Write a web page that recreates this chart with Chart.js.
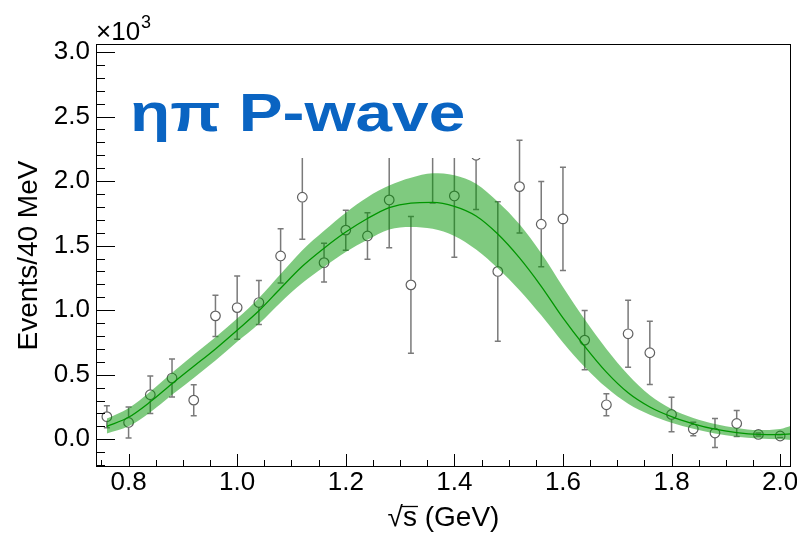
<!DOCTYPE html>
<html><head><meta charset="utf-8">
<script src="https://cdn.jsdelivr.net/npm/chart.js@4"></script>
<style>html,body{margin:0;padding:0;background:#fff}#wrap{width:797px;height:538px}</style>
</head><body><div id="wrap"><canvas id="c" width="797" height="538"></canvas></div>
<script>
// data (events in units of 10^3)
const massBins = [0.76,0.80,0.84,0.88,0.92,0.96,1.00,1.04,1.08,1.12,1.16,1.20,1.24,1.28,1.32,1.36,1.40,1.44,1.48,1.52,1.56,1.60,1.64,1.68,1.72,1.76,1.80,1.84,1.88,1.92,1.96,2.00];
const events   = [0.175,0.13,0.345,0.474,0.303,0.956,1.02,1.059,1.42,1.875,1.368,1.62,1.575,1.854,1.196,2.26,1.885,2.20,1.30,1.957,1.666,1.707,0.768,0.267,0.817,0.67,0.192,0.079,0.048,0.122,0.037,0.025];
const errors   = [0.085,0.12,0.145,0.147,0.12,0.16,0.245,0.17,0.21,0.325,0.15,0.155,0.18,0.37,0.53,0.43,0.475,0.42,0.54,0.36,0.33,0.40,0.23,0.085,0.26,0.245,0.133,0.052,0.112,0.10,0.012,0.012];
const fitMass    = [0.76,0.80,0.84,0.88,0.92,0.96,1.00,1.04,1.08,1.12,1.16,1.20,1.24,1.28,1.32,1.36,1.40,1.44,1.48,1.52,1.56,1.60,1.64,1.68,1.72,1.76,1.80,1.84,1.88,1.92,1.96,2.00,2.02];
const fitCentral = [0.10,0.17,0.29,0.43,0.565,0.70,0.845,0.995,1.17,1.34,1.48,1.605,1.71,1.795,1.83,1.835,1.805,1.73,1.59,1.405,1.185,0.94,0.72,0.52,0.36,0.25,0.175,0.12,0.078,0.052,0.038,0.036,0.042];
const fitUpper   = [0.16,0.24,0.37,0.515,0.655,0.79,0.935,1.095,1.28,1.465,1.615,1.755,1.875,1.965,2.025,2.06,2.045,1.98,1.84,1.665,1.44,1.18,0.93,0.70,0.50,0.34,0.235,0.165,0.118,0.088,0.072,0.08,0.105];
const fitLower   = [0.045,0.10,0.21,0.345,0.475,0.61,0.755,0.895,1.06,1.21,1.335,1.45,1.545,1.625,1.645,1.63,1.575,1.47,1.325,1.155,0.96,0.75,0.56,0.40,0.275,0.19,0.128,0.082,0.045,0.02,0.006,0.0,-0.005];
const xTitle = '√s (GeV)';
const yTitle = 'Events/40 MeV';
const panelLabel = 'ηπ P-wave';
const yExponent = '3';

const FONT = '"Liberation Sans", Arial, Helvetica, sans-serif';
const pts = (xs, ys) => xs.map((v, i) => ({x: v, y: ys[i]}));

const errorBars = {
  id: 'errorBars',
  beforeDatasetsDraw(chart) {
    const {ctx, scales: {x, y}} = chart;
    const r = 5;
    ctx.save();
    ctx.strokeStyle = '#7a7a7a';
    ctx.lineWidth = 1.5;
    massBins.forEach((m, i) => {
      const px = x.getPixelForValue(m);
      const py = y.getPixelForValue(events[i]);
      const top = y.getPixelForValue(events[i] + errors[i]);
      const bot = y.getPixelForValue(events[i] - errors[i]);
      ctx.beginPath();
      if (top < py - r) { ctx.moveTo(px, top); ctx.lineTo(px, py - r); }
      if (bot > py + r) { ctx.moveTo(px, py + r); ctx.lineTo(px, bot); }
      ctx.moveTo(px - 3, top); ctx.lineTo(px + 3, top);
      ctx.moveTo(px - 3, bot); ctx.lineTo(px + 3, bot);
      ctx.stroke();
    });
    ctx.restore();
  }
};

const decorations = {
  id: 'decorations',
  afterDatasetsDraw(chart) {
    const {ctx} = chart;
    ctx.save();
    ctx.fillStyle = '#ffffff';
    ctx.fillRect(118, 70, 372, 88);
    ctx.fillStyle = '#0a64c2';
    ctx.font = 'bold 53px ' + FONT;
    ctx.textBaseline = 'alphabetic';
    ctx.translate(130, 131);
    ctx.scale(1.24, 1);
    ctx.fillText(panelLabel, 0, 0);
    ctx.restore();
  },
  afterDraw(chart) {
    const {ctx, chartArea: a, scales: {x, y}} = chart;
    ctx.save();
    ctx.strokeStyle = '#000';
    ctx.lineWidth = 1;
    ctx.strokeRect(a.left + 0.5, a.top + 0.5, a.right - a.left - 1, a.bottom - a.top - 1);
    ctx.beginPath();
    for (let k = -2; k <= 30; k++) {
      const v = k / 10;
      const py = Math.round(y.getPixelForValue(v)) + 0.5;
      const len = (k % 5 === 0) ? 19 : 9;
      ctx.moveTo(a.left, py); ctx.lineTo(a.left + len, py);
    }
    for (let k = 15; k <= 40; k++) {
      const v = k / 20;
      const px = Math.round(x.getPixelForValue(v)) + 0.5;
      const len = (k % 4 === 0) ? 13 : 7;
      ctx.moveTo(px, a.bottom); ctx.lineTo(px, a.bottom - len);
    }
    ctx.stroke();
    // multiplier
    ctx.fillStyle = '#000';
    ctx.textBaseline = 'alphabetic';
    ctx.font = '26px ' + FONT;
    ctx.fillText('×10', 96, 40);
    const w = ctx.measureText('×10').width;
    ctx.font = '18px ' + FONT;
    ctx.fillText(yExponent, 96 + w + 1, 28);
    // overline of sqrt
    ctx.font = '28px ' + FONT;
    const tw = ctx.measureText(xTitle).width;
    const sx = (a.left + a.right) / 2 - tw / 2 + ctx.measureText('√').width;
    const sw = ctx.measureText('s').width;
    ctx.lineWidth = 1.3;
    ctx.beginPath();
    ctx.moveTo(sx - 1, 506.5); ctx.lineTo(sx + sw + 1, 506.5);
    ctx.stroke();
    ctx.restore();
  }
};

new Chart(document.getElementById('c'), {
  data: {
    datasets: [
      {type: 'scatter', label: 'data', data: pts(massBins, events), order: 3,
       pointStyle: 'circle', pointRadius: 4.8, pointBorderWidth: 1.2,
       pointBorderColor: '#606060', pointBackgroundColor: 'rgba(0,0,0,0)', showLine: false},
      {type: 'line', label: 'upper', data: pts(fitMass, fitUpper), order: 2,
       borderWidth: 0, pointRadius: 0, cubicInterpolationMode: 'monotone', fill: false},
      {type: 'line', label: 'lower', data: pts(fitMass, fitLower), order: 1,
       borderWidth: 0, pointRadius: 0, cubicInterpolationMode: 'monotone', fill: 1,
       backgroundColor: 'rgba(0,150,0,0.5)'},
      {type: 'line', label: 'fit', data: pts(fitMass, fitCentral), order: 0,
       borderColor: '#009600', borderWidth: 1.3, pointRadius: 0, cubicInterpolationMode: 'monotone', fill: false}
    ]
  },
  options: {
    responsive: false,
    devicePixelRatio: 1,
    animation: false,
    clip: true,
    layout: {padding: {top: 44, right: 6, left: 0, bottom: 0}},
    plugins: {legend: {display: false}, tooltip: {enabled: false}},
    scales: {
      x: {
        type: 'linear', position: 'bottom', min: 0.74, max: 2.02,
        grid: {display: false, drawTicks: false},
        border: {display: false},
        ticks: {stepSize: 0.2, includeBounds: false, autoSkip: false, maxRotation: 0,
                padding: 0, color: '#000', font: {family: FONT, size: 26},
                callback: v => v.toFixed(1)},
        title: {display: true, text: xTitle, color: '#000', font: {family: FONT, size: 28},
                padding: {top: 0, bottom: 3}},
        afterFit(s) { s.height = 71; s.paddingLeft = 0; s.paddingRight = 0; }
      },
      y: {
        type: 'linear', position: 'left', min: -0.215, max: 3.062,
        grid: {display: false, drawTicks: false},
        border: {display: false},
        ticks: {stepSize: 0.5, includeBounds: false, padding: 6, color: '#000',
                font: {family: FONT, size: 26}, callback: v => v.toFixed(1)},
        title: {display: true, text: yTitle, color: '#000', font: {family: FONT, size: 28},
                padding: {top: 12, bottom: 0}},
        afterFit(s) { s.width = 96; }
      }
    }
  },
  plugins: [errorBars, decorations]
});
</script></body></html>
